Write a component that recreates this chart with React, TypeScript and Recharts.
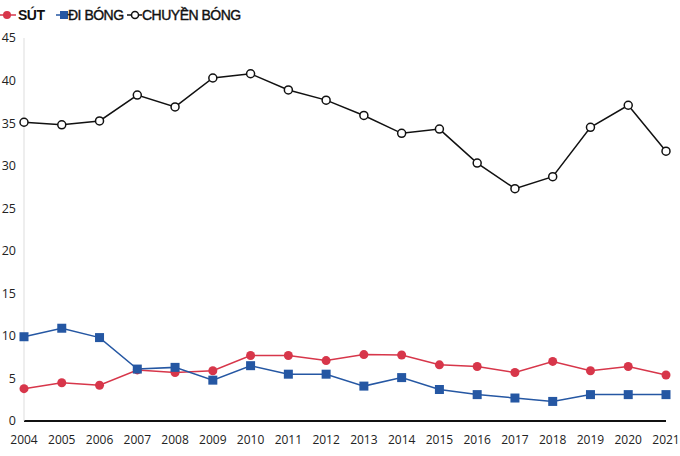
import { LineChart, Line, XAxis, YAxis } from "recharts"

const years = ["2004", "2005", "2006", "2007", "2008", "2009", "2010", "2011", "2012", "2013", "2014", "2015", "2016", "2017", "2018", "2019", "2020", "2021"]
const sut = [3.8, 4.5, 4.2, 6.0, 5.7, 5.9, 7.7, 7.7, 7.1, 7.8, 7.75, 6.6, 6.4, 5.7, 7.0, 5.9, 6.4, 5.4]
const diBong = [9.9, 10.9, 9.8, 6.1, 6.3, 4.8, 6.5, 5.5, 5.5, 4.1, 5.1, 3.7, 3.1, 2.7, 2.3, 3.1, 3.1, 3.1]
const chuyenBong = [35.1, 34.8, 35.25, 38.3, 36.9, 40.3, 40.8, 38.9, 37.7, 35.9, 33.8, 34.3, 30.3, 27.3, 28.7, 34.5, 37.1, 31.7]
const yTicks = [0, 5, 10, 15, 20, 25, 30, 35, 40, 45]

const RED = "#d7364a"
const BLUE = "#2557a3"
const BLACK = "#111111"

const data = years.map((year, i) => ({
  year,
  sut: sut[i],
  diBong: diBong[i],
  chuyenBong: chuyenBong[i],
}))

const SquareDot = (props: any) => {
  const { cx, cy } = props
  if (cx == null || cy == null) return null
  return <rect x={cx - 4.5} y={cy - 4.5} width={9} height={9} fill={BLUE} />
}

// legend entries, placed like the original's header
const legendItems = [
  { name: "SÚT", kind: "red", left: 0, gap: 2, bold: true },
  { name: "ĐI BÓNG", kind: "blue", left: 56, gap: 0, bold: false },
  { name: "CHUYỀN BÓNG", kind: "black", left: 127, gap: 0, bold: false },
]

function LegendIcon({ kind }: { kind: string }) {
  if (kind === "red") {
    return (
      <svg width={16} height={12} style={{ display: "block" }}>
        <line x1={0} y1={6} x2={16} y2={6} stroke={RED} strokeWidth={1.5} />
        <circle cx={7} cy={6} r={4} fill={RED} />
      </svg>
    )
  }
  if (kind === "blue") {
    return (
      <svg width={12} height={12} style={{ display: "block" }}>
        <line x1={0} y1={6} x2={12} y2={6} stroke={BLUE} strokeWidth={1.5} />
        <rect x={4} y={2} width={8} height={8} fill={BLUE} />
      </svg>
    )
  }
  return (
    <svg width={15} height={12} style={{ display: "block" }}>
      <line x1={0} y1={6} x2={15} y2={6} stroke={BLACK} strokeWidth={1.5} />
      <circle cx={8} cy={6} r={3.5} fill="#fff" stroke={BLACK} strokeWidth={1.5} />
    </svg>
  )
}

export default function App() {
  return (
    <div style={{ position: "relative", width: 680, height: 456, background: "#fff", fontFamily: "'Open Sans', sans-serif" }}>
      <style>{`body { margin: 0; }`}</style>
      {legendItems.map((item) => (
        <div
          key={item.name}
          style={{
            position: "absolute",
            left: item.left,
            top: 7,
            height: 16,
            display: "flex",
            alignItems: "center",
            fontFamily: "'Liberation Sans', Arial, sans-serif",
            fontSize: 14,
            fontWeight: item.bold ? 700 : 400,
            letterSpacing: -0.5,
            color: "#111",
            WebkitTextStroke: item.bold ? undefined : "0.4px #111",
            whiteSpace: "nowrap",
            zIndex: 2,
          }}
        >
          <LegendIcon kind={item.kind} />
          <span style={{ marginLeft: item.gap }}>{item.name}</span>
        </div>
      ))}
      <LineChart width={680} height={456} data={data} margin={{ top: 38, right: 14, bottom: 0, left: 0 }}>
        <XAxis
          dataKey="year"
          axisLine={{ stroke: "#111", strokeWidth: 2 }}
          tickLine={false}
          tick={{ fill: "#222", fontSize: 12 }}
          tickMargin={8}
          height={35}
          interval={0}
        />
        <YAxis
          domain={[0, 45]}
          ticks={yTicks}
          width={24}
          axisLine={{ stroke: "#dddddd" }}
          tickLine={false}
          tick={{ fill: "#222", fontSize: 12.5 }}
          interval={0}
        />
        <Line
          dataKey="sut"
          stroke={RED}
          strokeWidth={1.5}
          dot={{ r: 4.5, fill: RED, stroke: RED, strokeWidth: 0 }}
          isAnimationActive={false}
        />
        <Line
          dataKey="diBong"
          stroke={BLUE}
          strokeWidth={1.5}
          dot={<SquareDot />}
          isAnimationActive={false}
        />
        <Line
          dataKey="chuyenBong"
          stroke={BLACK}
          strokeWidth={1.5}
          dot={{ r: 4, fill: "#fff", stroke: BLACK, strokeWidth: 1.5 }}
          isAnimationActive={false}
        />
      </LineChart>
    </div>
  )
}
